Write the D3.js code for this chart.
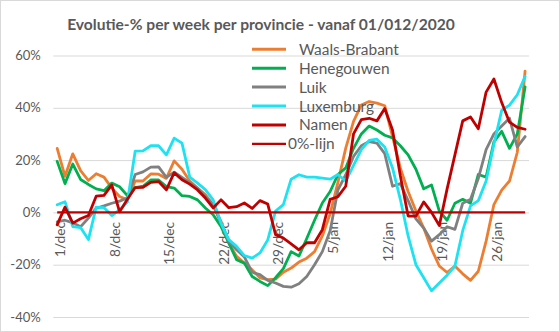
<!DOCTYPE html>
<html><head><meta charset="utf-8">
<script src="https://cdn.jsdelivr.net/npm/d3@7"></script>
<style>body{margin:0;background:#fff} svg{display:block}</style>
</head><body><svg id="c" width="560" height="332"></svg>
<script>
const categories = ["1/dec","2/dec","3/dec","4/dec","5/dec","6/dec","7/dec","8/dec","9/dec","10/dec","11/dec","12/dec","13/dec","14/dec","15/dec","16/dec","17/dec","18/dec","19/dec","20/dec","21/dec","22/dec","23/dec","24/dec","25/dec","26/dec","27/dec","28/dec","29/dec","30/dec","31/dec",
"1/jan","2/jan","3/jan","4/jan","5/jan","6/jan","7/jan","8/jan","9/jan","10/jan","11/jan","12/jan","13/jan","14/jan","15/jan","16/jan","17/jan","18/jan","19/jan","20/jan","21/jan","22/jan","23/jan","24/jan","25/jan","26/jan","27/jan","28/jan","29/jan","30/jan"];
const tickLabels = ["1/dec","8/dec","15/dec","22/dec","29/dec","5/jan","12/jan","19/jan","26/jan"];
const yTicks = [-40,-20,0,20,40,60];

const waalsBrabant = [24.5,13.8,22.4,16,12.2,14.8,13.5,9.3,6.1,4.8,12,12,14.7,14.6,13,19.7,16.5,12,9.3,6.8,2.9,-3.4,-11.7,-16.8,-19.4,-22,-25,-25.7,-25.5,-22.9,-21.3,-19,-17.5,-15,-9,-0.5,11.5,24.6,34.8,41.1,42.4,41.8,40.8,29,17,8,0.5,-6,-14,-20.5,-23,-20.5,-23.5,-26,-22.5,-11,3,8.5,12,23,54];
const henegouwen = [19.5,11,18.5,12.6,10.7,9,8.3,11.2,9.8,6.4,9.5,10,12.4,12.4,9.9,9.3,6.4,6.1,4.8,1.7,-0.9,-5.4,-11.7,-18.1,-19.4,-24.5,-26.4,-28,-25,-21.5,-15,-16.7,-10,-3,3.6,8,14.5,17,24.5,30,33,31.5,29.5,28.5,25.5,22,16.5,9,10.5,0.5,-3,3.5,5,3.5,14.5,13.5,27,31,24.5,30,48];
const luik = [-3.6,-3,-4,-5.5,-2.2,1.6,2.5,3.5,4.3,5.5,14.5,15.5,17.3,17.4,13.4,15.4,13.4,11.4,9.3,6.1,2.9,-4.1,-11,-14.3,-17,-22.9,-23.8,-26,-27,-28.3,-28.6,-27.3,-24.5,-20,-15,-7,8.6,14.4,21.4,25.5,27.1,26.5,22.5,10,11,4.5,-2.5,-6,-11,-8.5,-5.5,-6.5,3.5,5,13,24,30,33,36,25,29];
const luxemburg = [2.9,4.1,-5.4,-5.8,-10.4,2,1.8,-1.2,1,4,23.4,23.5,25.5,25.5,22,28.4,26.5,13.5,11.2,8.7,4.8,-4.1,-10.4,-13,-16.5,-17.5,-15.5,-10.5,0.5,3,12.7,14.4,13.5,13.5,13.1,12.7,14.5,12,18,24,27.5,28,25,17,5,-9,-20,-25,-30,-27,-24,-20.5,-7,2.5,4.5,12,26,39,41,45,52];
const namen = [-4.7,2,-4.1,-2.4,-1.2,6.2,6.5,10.5,0.2,5,9.5,9.6,11.5,11.8,8.6,15.2,12.5,10.8,8.6,5.5,1.7,4.8,1.8,2.2,3.6,1.5,4.5,3.2,-8.5,-9.8,-12,-14.3,-11.6,-11.6,-6.6,5,6,10,30,35.5,36,35,39.7,31.5,14,-1.4,-1.4,4,0,-5,9,22,35,36.5,32,46,51,42,34.5,32.5,31.8];
const nulLijn = categories.map(() => 0);

const seriesNames = ["Waals-Brabant","Henegouwen","Luik","Luxemburg","Namen","0%-lijn"];
const seriesValues = [waalsBrabant, henegouwen, luik, luxemburg, namen, nulLijn];
const seriesColors = ["#ED7D31","#00B050","#808080","#1DE2F2","#C00000","#C00000"];
const seriesWidths = [2.8,2.8,2.8,2.8,2.8,2.2];

const svg = d3.select("#c");
const textColor = "#595959";
const fontFam = "Lato, 'Open Sans', sans-serif";

svg.append("rect").attr("x",0.5).attr("y",0.5).attr("width",559).attr("height",331)
  .attr("fill","#fff").attr("stroke","#d9d9d9");

const plotL = 53.3, plotR = 529;
const x = d3.scalePoint().domain(categories).range([plotL, plotR]).padding(0.5);
const y = d3.scaleLinear().domain([-40, 60]).range([317, 55.5]);

function fitSize(txt, base, target) {
  const t = svg.append("text").attr("font-family", fontFam).attr("font-size", base).text(txt);
  const w = t.node().getComputedTextLength(); t.remove();
  return base * target / w;
}

// title
const titleSize = fitSize("Evolutie-% per week per provincie - vanaf 01/012/2020", 14, 388) ;
svg.append("text").attr("x", 261).attr("y", 29.5).attr("text-anchor","middle")
  .attr("font-family", fontFam).attr("font-weight","bold").attr("font-size", 14)
  .attr("fill", textColor).text("Evolutie-% per week per provincie - vanaf 01/012/2020")
  .each(function(){ const w=this.getComputedTextLength(); d3.select(this).attr("font-size", 14*388/w); });

// gridlines
const grid = svg.append("g").attr("transform", `translate(${plotL},0)`)
  .call(d3.axisRight(y).tickValues(yTicks).tickSize(plotR - plotL).tickFormat(""));
grid.select(".domain").remove();
grid.selectAll("line").attr("stroke","#d9d9d9").attr("stroke-width",1);

// y labels
const axisSize = fitSize("-40%", 12, 30.5);
const yAx = svg.append("g").attr("transform", `translate(${plotL},0)`)
  .call(d3.axisLeft(y).tickValues(yTicks).tickSize(0).tickPadding(12.5).tickFormat(d => d + "%"));
yAx.select(".domain").remove();
yAx.selectAll("text").attr("font-family", fontFam).attr("font-size", axisSize).attr("fill", textColor);

// x labels
const xSize = fitSize("15/dec", 12, 43);
const xAx = svg.append("g").attr("transform", `translate(0,${y(0)})`)
  .call(d3.axisBottom(x).tickValues(tickLabels).tickSize(0));
xAx.select(".domain").remove();
xAx.selectAll("text").attr("font-family", fontFam).attr("font-size", xSize).attr("fill", textColor)
  .attr("transform","rotate(-90)").attr("text-anchor","end")
  .attr("x", -9.5).attr("y", 2.5).attr("dy","0.35em");

// series
const line = d3.line().x((d,i) => x(categories[i])).y(d => y(d));
seriesValues.forEach((vals, k) => {
  svg.append("path").datum(vals).attr("d", line).attr("fill","none")
    .attr("stroke", seriesColors[k]).attr("stroke-width", seriesWidths[k])
    .attr("stroke-linejoin","round").attr("stroke-linecap", k === 5 ? "butt" : "round");
});

// legend
const legSize = fitSize("Waals-Brabant", 14, 100);
const leg = svg.append("g");
seriesNames.forEach((n, k) => {
  const cy = 49.3 + k * 18.9;
  leg.append("line").attr("x1", 252).attr("x2", 286).attr("y1", cy).attr("y2", cy)
    .attr("stroke", seriesColors[k]).attr("stroke-width", k === 5 ? 2.2 : 3);
  leg.append("text").attr("x", k === 5 ? 288 : 299).attr("y", cy).attr("dy","0.36em")
    .attr("font-family", fontFam).attr("font-size", legSize).attr("fill", textColor).text(n);
});
</script></body></html>
